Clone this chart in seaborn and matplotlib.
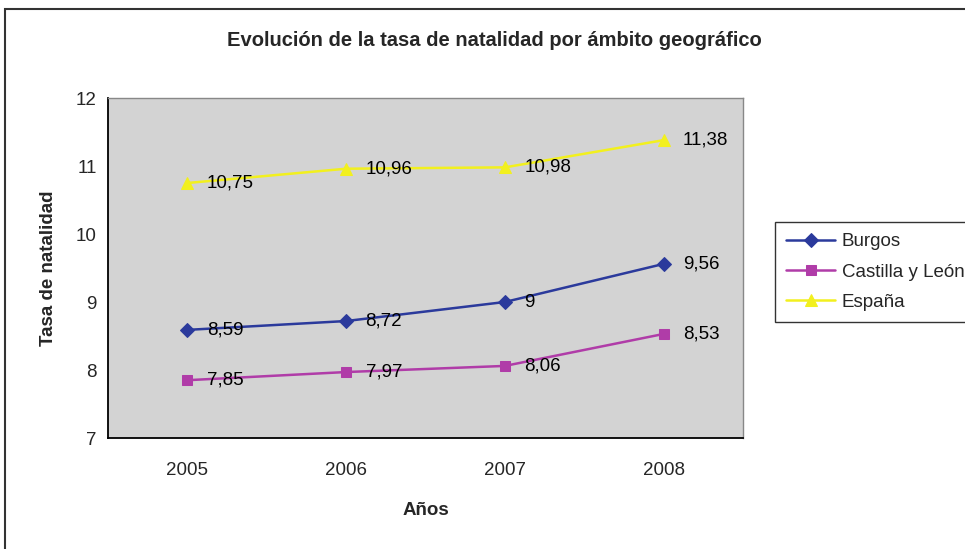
import matplotlib
matplotlib.use("Agg")
import matplotlib.pyplot as plt
import matplotlib.patches as patches
import seaborn as sns
import pandas as pd

years = ["2005", "2006", "2007", "2008"]
burgos = [8.59, 8.72, 9.00, 9.56]
castilla = [7.85, 7.97, 8.06, 8.53]
espana = [10.75, 10.96, 10.98, 11.38]
series_names = ["Burgos", "Castilla y León", "España"]
label_text = {
    "Burgos": ["8,59", "8,72", "9", "9,56"],
    "Castilla y León": ["7,85", "7,97", "8,06", "8,53"],
    "España": ["10,75", "10,96", "10,98", "11,38"],
}

df = pd.DataFrame({
    "Año": years * 3,
    "Tasa": burgos + castilla + espana,
    "Ámbito": [n for n in series_names for _ in years],
})

colors = {"Burgos": "#2b3a9c", "Castilla y León": "#b03ca8", "España": "#f2f01e"}
markers = {"Burgos": "D", "Castilla y León": "s", "España": "^"}
msizes = {"Burgos": 7, "Castilla y León": 7, "España": 9}

sns.set_style("white")
plt.rcParams['font.family'] = ['Liberation Sans', 'DejaVu Sans']

fig = plt.figure(figsize=(9.65, 5.49), dpi=100)
ax = fig.add_axes([108 / 965, 1 - 438 / 549, 635 / 965, 340 / 549])
ax.set_facecolor("#d3d3d3")

for name in series_names:
    sub = df[df["Ámbito"] == name]
    sns.lineplot(data=sub, x="Año", y="Tasa", ax=ax, color=colors[name],
                 marker=markers[name], markersize=msizes[name],
                 markeredgecolor=colors[name], linewidth=1.8, label=name,
                 sort=False)
    for i, (v, t) in enumerate(zip(sub["Tasa"], label_text[name])):
        ax.annotate(t, (i, v), xytext=(14, 0), textcoords="offset points",
                    va="center", ha="left", fontsize=13.5, color="black")

ax.set_xlim(-0.5, 3.5)
ax.set_ylim(7, 12)
ax.set_yticks([7, 8, 9, 10, 11, 12])
ax.set_xticks([-0.5, 0.5, 1.5, 2.5, 3.5])
ax.set_xticklabels([])
ax.set_xticks(range(len(years)), minor=True)
ax.set_xticklabels(years, minor=True, fontsize=13.5)
ax.tick_params(axis="x", which="major", direction="out", length=5, width=1.2, color="black")
ax.tick_params(axis="x", which="minor", length=0, pad=17)
ax.tick_params(axis="y", direction="out", length=5, width=1.2, color="black", labelsize=13.5, pad=3)
for side in ["top", "right"]:
    ax.spines[side].set_color("#888888")
    ax.spines[side].set_linewidth(1.0)
for side in ["left", "bottom"]:
    ax.spines[side].set_color("black")
    ax.spines[side].set_linewidth(1.3)

ax.set_xlabel("Años", fontsize=13.5, fontweight="bold", labelpad=17)
ax.set_ylabel("Tasa de natalidad", fontsize=13.5, fontweight="bold", labelpad=14)
fig.suptitle("Evolución de la tasa de natalidad por ámbito geográfico",
             x=494 / 965, y=1 - 40 / 549, va="center", fontsize=14.5, fontweight="bold")

handles, labels = ax.get_legend_handles_labels()
ax.get_legend().remove()
leg = fig.legend(handles, labels, loc="upper left",
                 bbox_to_anchor=(775 / 965, 1 - 222 / 549), fontsize=13.5,
                 frameon=True, fancybox=False, edgecolor="black",
                 handlelength=2.6, borderpad=0.6, labelspacing=0.7,
                 handletextpad=0.35, borderaxespad=0)
leg.get_frame().set_linewidth(1.0)

border = patches.Rectangle((5 / 965, -0.05), 1.2, 1 - 9 / 549 + 0.05,
                           transform=fig.transFigure, fill=False,
                           edgecolor="#333333", linewidth=1.5, clip_on=False)
fig.patches.append(border)

fig.savefig("out.png", dpi=100)
